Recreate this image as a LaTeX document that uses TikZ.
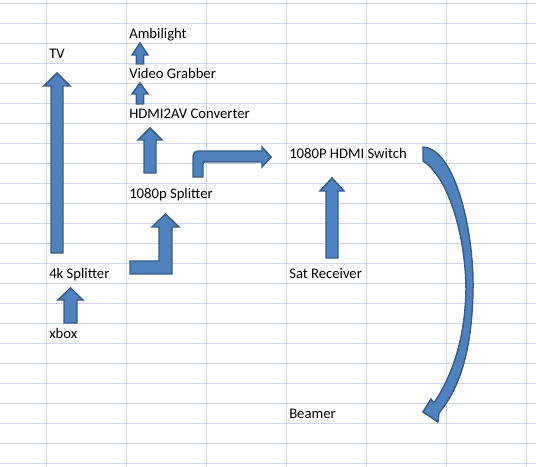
\documentclass[tikz,border=0pt]{standalone}
\usepackage{fontspec}
\setmainfont{Carlito}
\definecolor{gridline}{HTML}{D0D7E5}
\definecolor{arrowfill}{HTML}{4F81BD}
\definecolor{arrowline}{HTML}{385D8A}
\def\devices{{(129,38.3)/ambilight/Ambilight}, {(49,58.3)/tv/TV}, {(129,78.3)/grabber/Video Grabber}, {(129,118.3)/converter/HDMI2AV Converter}, {(289,158.3)/switch/1080P HDMI Switch}, {(129,198.3)/splitp/1080p Splitter}, {(49,278.3)/splitk/4k Splitter}, {(289,278.3)/sat/Sat Receiver}, {(49,338.3)/xbox/xbox}, {(289,418.3)/beamer/Beamer}}
\def\uparrows{57/253/73/6/13/86, 140/64/43/3.6/8/55, 140/104/83/3.6/8/94, 150/173/128/6/12/140, 70.5/323/288/6.5/12.5/300, 332/258/178/6/12/191}
\tikzstyle{device}=[anchor=base west, inner sep=0pt, font=\fontsize{11}{13}\selectfont]
\tikzstyle{block arrow}=[fill=arrowfill, draw=arrowline, line width=1.1pt, line join=miter]
\tikzstyle{cell}=[draw=gridline, line width=0.75pt]

\begin{document}
\begin{tikzpicture}[x=0.75pt, y=-0.75pt]
  \useasboundingbox (0,0) rectangle (536,467);
  % First the spreadsheet grid
  \foreach \gx in {46.5,126.5,...,526.5}
    \path[cell] (\gx,0) -- (\gx,467);
  \foreach \gy in {3.5,23.5,...,463.5}
    \path[cell] (0,\gy) -- (536,\gy);

  % Device labels
  \foreach \pos/\name/\label in \devices
    \node[device] (\name) at \pos {\label};

  % Straight block arrows
  \foreach \cx/\yb/\yt/\sw/\hw/\yh in \uparrows
    \path[block arrow] (\cx-\sw,\yb) -- (\cx-\sw,\yh) -- (\cx-\hw,\yh) -- (\cx,\yt)
      -- (\cx+\hw,\yh) -- (\cx+\sw,\yh) -- (\cx+\sw,\yb) -- cycle;

  % 4k splitter to 1080p splitter
  \path[block arrow] (130,261) -- (159,261) -- (159,227) -- (152,227) -- (165.5,214)
    -- (179,227) -- (172,227) -- (172,274) -- (130,274) -- cycle;

  % 1080p splitter to switch
  \path[block arrow] (193,177) -- (193,162) .. controls (193,151) and (193,151) .. (204,151)
    -- (262,151) -- (262,147) -- (271,157) -- (262,167) -- (262,162) -- (205,162)
    .. controls (203,162) .. (203,164) -- (203,177) -- cycle;

  % switch to beamer
  \path[block arrow] (423,147) .. controls (455,149) and (474,230) .. (473,290)
    .. controls (472,345) and (462,385) .. (439,413) -- (438,422) -- (423,412)
    -- (431,399) -- (434,403) .. controls (452,376) and (465,340) .. (466,290)
    .. controls (466,240) and (450,178) .. (423,161) -- cycle;
\end{tikzpicture}
\end{document}
